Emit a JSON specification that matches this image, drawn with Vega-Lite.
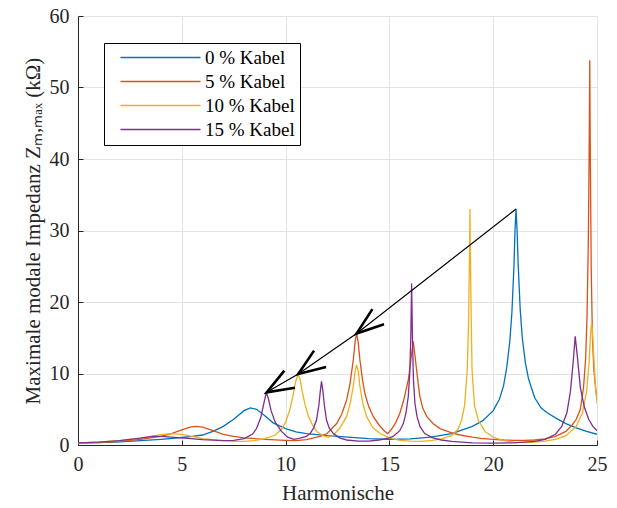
{
  "$schema": "https://vega.github.io/schema/vega-lite/v6.json",
  "width": 519,
  "height": 429,
  "autosize": "none",
  "padding": {"left": 78, "top": 16, "right": 20, "bottom": 63},
  "background": "white",
  "config": {
    "font": "Liberation Serif",
    "view": {"stroke": null},
    "axis": {
      "grid": true,
      "gridColor": "#e3e3e3",
      "gridWidth": 1,
      "domainColor": "#262626",
      "tickColor": "#262626",
      "tickSize": -5,
      "labelFlush": false,
      "labelFont": "Liberation Serif",
      "labelFontSize": 20,
      "labelColor": "#262626",
      "titleFont": "Liberation Serif",
      "titleFontSize": 21,
      "titleFontWeight": "normal",
      "titleColor": "#262626"
    }
  },
  "datasets": {
    "curves": [
      {"s": "0 % Kabel", "x": 0, "y": 0.3}, {"s": "0 % Kabel", "x": 1, "y": 0.35}, {"s": "0 % Kabel", "x": 2, "y": 0.45}, {"s": "0 % Kabel", "x": 3, "y": 0.6}, {"s": "0 % Kabel", "x": 4, "y": 0.8}, {"s": "0 % Kabel", "x": 5, "y": 1.05}, {"s": "0 % Kabel", "x": 5.5, "y": 1.2}, {"s": "0 % Kabel", "x": 6, "y": 1.4}, {"s": "0 % Kabel", "x": 6.5, "y": 1.9}, {"s": "0 % Kabel", "x": 7, "y": 2.6}, {"s": "0 % Kabel", "x": 7.5, "y": 3.6}, {"s": "0 % Kabel", "x": 8, "y": 4.8}, {"s": "0 % Kabel", "x": 8.3, "y": 5.2}, {"s": "0 % Kabel", "x": 8.6, "y": 5.0}, {"s": "0 % Kabel", "x": 9, "y": 4.1}, {"s": "0 % Kabel", "x": 9.4, "y": 3.1}, {"s": "0 % Kabel", "x": 10, "y": 2.3}, {"s": "0 % Kabel", "x": 10.5, "y": 1.85}, {"s": "0 % Kabel", "x": 11, "y": 1.6}, {"s": "0 % Kabel", "x": 12, "y": 1.3}, {"s": "0 % Kabel", "x": 13, "y": 1.1}, {"s": "0 % Kabel", "x": 14, "y": 0.9}, {"s": "0 % Kabel", "x": 15, "y": 0.8}, {"s": "0 % Kabel", "x": 16, "y": 0.85}, {"s": "0 % Kabel", "x": 17, "y": 1.1}, {"s": "0 % Kabel", "x": 18, "y": 1.6}, {"s": "0 % Kabel", "x": 19, "y": 2.6}, {"s": "0 % Kabel", "x": 19.5, "y": 3.4}, {"s": "0 % Kabel", "x": 20, "y": 4.8}, {"s": "0 % Kabel", "x": 20.3, "y": 6.4}, {"s": "0 % Kabel", "x": 20.5, "y": 8.3}, {"s": "0 % Kabel", "x": 20.65, "y": 10.8}, {"s": "0 % Kabel", "x": 20.8, "y": 14.5}, {"s": "0 % Kabel", "x": 20.9, "y": 18.5}, {"s": "0 % Kabel", "x": 21.0, "y": 25}, {"s": "0 % Kabel", "x": 21.05, "y": 30}, {"s": "0 % Kabel", "x": 21.1, "y": 33}, {"s": "0 % Kabel", "x": 21.15, "y": 30}, {"s": "0 % Kabel", "x": 21.2, "y": 25.5}, {"s": "0 % Kabel", "x": 21.3, "y": 19}, {"s": "0 % Kabel", "x": 21.4, "y": 15}, {"s": "0 % Kabel", "x": 21.55, "y": 11.5}, {"s": "0 % Kabel", "x": 21.7, "y": 9.3}, {"s": "0 % Kabel", "x": 21.85, "y": 7.9}, {"s": "0 % Kabel", "x": 22, "y": 6.6}, {"s": "0 % Kabel", "x": 22.3, "y": 5.2}, {"s": "0 % Kabel", "x": 22.6, "y": 4.5}, {"s": "0 % Kabel", "x": 23, "y": 3.8}, {"s": "0 % Kabel", "x": 23.5, "y": 3.0}, {"s": "0 % Kabel", "x": 24, "y": 2.4}, {"s": "0 % Kabel", "x": 24.5, "y": 1.9}, {"s": "0 % Kabel", "x": 25, "y": 1.5},

      {"s": "5 % Kabel", "x": 0, "y": 0.3}, {"s": "5 % Kabel", "x": 1, "y": 0.35}, {"s": "5 % Kabel", "x": 2, "y": 0.5}, {"s": "5 % Kabel", "x": 3, "y": 0.8}, {"s": "5 % Kabel", "x": 4, "y": 1.2}, {"s": "5 % Kabel", "x": 4.5, "y": 1.6}, {"s": "5 % Kabel", "x": 5, "y": 2.1}, {"s": "5 % Kabel", "x": 5.4, "y": 2.5}, {"s": "5 % Kabel", "x": 5.7, "y": 2.6}, {"s": "5 % Kabel", "x": 6, "y": 2.5}, {"s": "5 % Kabel", "x": 6.5, "y": 2.0}, {"s": "5 % Kabel", "x": 7, "y": 1.5}, {"s": "5 % Kabel", "x": 7.5, "y": 1.2}, {"s": "5 % Kabel", "x": 8, "y": 1.0}, {"s": "5 % Kabel", "x": 9, "y": 0.8}, {"s": "5 % Kabel", "x": 10, "y": 0.65}, {"s": "5 % Kabel", "x": 10.5, "y": 0.6}, {"s": "5 % Kabel", "x": 11, "y": 0.75}, {"s": "5 % Kabel", "x": 11.66, "y": 1.2}, {"s": "5 % Kabel", "x": 12, "y": 1.6}, {"s": "5 % Kabel", "x": 12.46, "y": 3.0}, {"s": "5 % Kabel", "x": 12.7, "y": 4.3}, {"s": "5 % Kabel", "x": 12.94, "y": 6.3}, {"s": "5 % Kabel", "x": 13.1, "y": 8.5}, {"s": "5 % Kabel", "x": 13.26, "y": 11.9}, {"s": "5 % Kabel", "x": 13.35, "y": 14.5}, {"s": "5 % Kabel", "x": 13.42, "y": 15.6}, {"s": "5 % Kabel", "x": 13.5, "y": 14.3}, {"s": "5 % Kabel", "x": 13.58, "y": 11.9}, {"s": "5 % Kabel", "x": 13.7, "y": 9.2}, {"s": "5 % Kabel", "x": 13.82, "y": 7.2}, {"s": "5 % Kabel", "x": 14.0, "y": 5.4}, {"s": "5 % Kabel", "x": 14.22, "y": 4.0}, {"s": "5 % Kabel", "x": 14.5, "y": 2.8}, {"s": "5 % Kabel", "x": 14.75, "y": 2.0}, {"s": "5 % Kabel", "x": 14.92, "y": 1.6}, {"s": "5 % Kabel", "x": 15.1, "y": 2.2}, {"s": "5 % Kabel", "x": 15.3, "y": 3.1}, {"s": "5 % Kabel", "x": 15.5, "y": 4.4}, {"s": "5 % Kabel", "x": 15.7, "y": 6.4}, {"s": "5 % Kabel", "x": 15.91, "y": 9.1}, {"s": "5 % Kabel", "x": 16.0, "y": 11}, {"s": "5 % Kabel", "x": 16.07, "y": 12.8}, {"s": "5 % Kabel", "x": 16.15, "y": 14.5}, {"s": "5 % Kabel", "x": 16.22, "y": 12.8}, {"s": "5 % Kabel", "x": 16.31, "y": 10.5}, {"s": "5 % Kabel", "x": 16.4, "y": 8.3}, {"s": "5 % Kabel", "x": 16.47, "y": 6.75}, {"s": "5 % Kabel", "x": 16.6, "y": 5.2}, {"s": "5 % Kabel", "x": 16.8, "y": 4.0}, {"s": "5 % Kabel", "x": 17.1, "y": 3.0}, {"s": "5 % Kabel", "x": 17.44, "y": 2.3}, {"s": "5 % Kabel", "x": 18, "y": 1.7}, {"s": "5 % Kabel", "x": 18.4, "y": 1.4}, {"s": "5 % Kabel", "x": 19, "y": 1.1}, {"s": "5 % Kabel", "x": 19.4, "y": 0.93}, {"s": "5 % Kabel", "x": 20, "y": 0.8}, {"s": "5 % Kabel", "x": 20.5, "y": 0.7}, {"s": "5 % Kabel", "x": 21, "y": 0.65}, {"s": "5 % Kabel", "x": 21.5, "y": 0.65}, {"s": "5 % Kabel", "x": 22, "y": 0.7}, {"s": "5 % Kabel", "x": 22.5, "y": 0.85}, {"s": "5 % Kabel", "x": 23, "y": 1.2}, {"s": "5 % Kabel", "x": 23.5, "y": 1.9}, {"s": "5 % Kabel", "x": 23.8, "y": 2.8}, {"s": "5 % Kabel", "x": 24, "y": 3.6}, {"s": "5 % Kabel", "x": 24.2, "y": 5}, {"s": "5 % Kabel", "x": 24.35, "y": 8}, {"s": "5 % Kabel", "x": 24.45, "y": 12}, {"s": "5 % Kabel", "x": 24.52, "y": 18}, {"s": "5 % Kabel", "x": 24.58, "y": 28}, {"s": "5 % Kabel", "x": 24.62, "y": 40}, {"s": "5 % Kabel", "x": 24.65, "y": 53.8}, {"s": "5 % Kabel", "x": 24.68, "y": 40}, {"s": "5 % Kabel", "x": 24.72, "y": 25}, {"s": "5 % Kabel", "x": 24.78, "y": 15}, {"s": "5 % Kabel", "x": 24.85, "y": 10.5}, {"s": "5 % Kabel", "x": 24.93, "y": 8}, {"s": "5 % Kabel", "x": 25, "y": 6.5},

      {"s": "10 % Kabel", "x": 0, "y": 0.3}, {"s": "10 % Kabel", "x": 1, "y": 0.4}, {"s": "10 % Kabel", "x": 2, "y": 0.6}, {"s": "10 % Kabel", "x": 3, "y": 0.95}, {"s": "10 % Kabel", "x": 3.5, "y": 1.2}, {"s": "10 % Kabel", "x": 4, "y": 1.45}, {"s": "10 % Kabel", "x": 4.5, "y": 1.6}, {"s": "10 % Kabel", "x": 5, "y": 1.5}, {"s": "10 % Kabel", "x": 5.5, "y": 1.2}, {"s": "10 % Kabel", "x": 6, "y": 0.9}, {"s": "10 % Kabel", "x": 7, "y": 0.6}, {"s": "10 % Kabel", "x": 7.5, "y": 0.5}, {"s": "10 % Kabel", "x": 8, "y": 0.5}, {"s": "10 % Kabel", "x": 8.5, "y": 0.6}, {"s": "10 % Kabel", "x": 9, "y": 0.9}, {"s": "10 % Kabel", "x": 9.5, "y": 1.4}, {"s": "10 % Kabel", "x": 9.8, "y": 2.2}, {"s": "10 % Kabel", "x": 10, "y": 3.2}, {"s": "10 % Kabel", "x": 10.2, "y": 4.9}, {"s": "10 % Kabel", "x": 10.35, "y": 6.8}, {"s": "10 % Kabel", "x": 10.48, "y": 8.8}, {"s": "10 % Kabel", "x": 10.6, "y": 9.9}, {"s": "10 % Kabel", "x": 10.7, "y": 9.2}, {"s": "10 % Kabel", "x": 10.8, "y": 7.5}, {"s": "10 % Kabel", "x": 10.95, "y": 5.5}, {"s": "10 % Kabel", "x": 11.1, "y": 4.0}, {"s": "10 % Kabel", "x": 11.3, "y": 2.8}, {"s": "10 % Kabel", "x": 11.5, "y": 1.9}, {"s": "10 % Kabel", "x": 11.8, "y": 1.3}, {"s": "10 % Kabel", "x": 12.06, "y": 1.07}, {"s": "10 % Kabel", "x": 12.3, "y": 1.4}, {"s": "10 % Kabel", "x": 12.6, "y": 2.3}, {"s": "10 % Kabel", "x": 12.94, "y": 4.0}, {"s": "10 % Kabel", "x": 13.1, "y": 5.7}, {"s": "10 % Kabel", "x": 13.26, "y": 8.2}, {"s": "10 % Kabel", "x": 13.35, "y": 10.3}, {"s": "10 % Kabel", "x": 13.42, "y": 11.2}, {"s": "10 % Kabel", "x": 13.5, "y": 10.3}, {"s": "10 % Kabel", "x": 13.58, "y": 8.2}, {"s": "10 % Kabel", "x": 13.72, "y": 5.8}, {"s": "10 % Kabel", "x": 13.9, "y": 4.0}, {"s": "10 % Kabel", "x": 14.2, "y": 2.4}, {"s": "10 % Kabel", "x": 14.55, "y": 1.6}, {"s": "10 % Kabel", "x": 15, "y": 1.0}, {"s": "10 % Kabel", "x": 15.5, "y": 0.65}, {"s": "10 % Kabel", "x": 16, "y": 0.55}, {"s": "10 % Kabel", "x": 16.5, "y": 0.5}, {"s": "10 % Kabel", "x": 17, "y": 0.6}, {"s": "10 % Kabel", "x": 17.5, "y": 0.85}, {"s": "10 % Kabel", "x": 18, "y": 1.3}, {"s": "10 % Kabel", "x": 18.3, "y": 2.2}, {"s": "10 % Kabel", "x": 18.48, "y": 3.5}, {"s": "10 % Kabel", "x": 18.62, "y": 5.5}, {"s": "10 % Kabel", "x": 18.75, "y": 10.5}, {"s": "10 % Kabel", "x": 18.82, "y": 18}, {"s": "10 % Kabel", "x": 18.86, "y": 27}, {"s": "10 % Kabel", "x": 18.88, "y": 33}, {"s": "10 % Kabel", "x": 18.9, "y": 27}, {"s": "10 % Kabel", "x": 18.94, "y": 18}, {"s": "10 % Kabel", "x": 18.98, "y": 10.5}, {"s": "10 % Kabel", "x": 19.1, "y": 5.5}, {"s": "10 % Kabel", "x": 19.28, "y": 3.5}, {"s": "10 % Kabel", "x": 19.6, "y": 1.9}, {"s": "10 % Kabel", "x": 20, "y": 1.1}, {"s": "10 % Kabel", "x": 20.5, "y": 0.6}, {"s": "10 % Kabel", "x": 21, "y": 0.4}, {"s": "10 % Kabel", "x": 21.5, "y": 0.35}, {"s": "10 % Kabel", "x": 22, "y": 0.4}, {"s": "10 % Kabel", "x": 22.5, "y": 0.55}, {"s": "10 % Kabel", "x": 23, "y": 0.8}, {"s": "10 % Kabel", "x": 23.5, "y": 1.3}, {"s": "10 % Kabel", "x": 24, "y": 2.6}, {"s": "10 % Kabel", "x": 24.3, "y": 4.5}, {"s": "10 % Kabel", "x": 24.5, "y": 7.5}, {"s": "10 % Kabel", "x": 24.62, "y": 11.5}, {"s": "10 % Kabel", "x": 24.7, "y": 16}, {"s": "10 % Kabel", "x": 24.74, "y": 17}, {"s": "10 % Kabel", "x": 24.78, "y": 16}, {"s": "10 % Kabel", "x": 24.85, "y": 12}, {"s": "10 % Kabel", "x": 24.92, "y": 8.5}, {"s": "10 % Kabel", "x": 25, "y": 5.8},

      {"s": "15 % Kabel", "x": 0, "y": 0.3}, {"s": "15 % Kabel", "x": 1, "y": 0.4}, {"s": "15 % Kabel", "x": 2, "y": 0.6}, {"s": "15 % Kabel", "x": 3, "y": 0.95}, {"s": "15 % Kabel", "x": 3.6, "y": 1.2}, {"s": "15 % Kabel", "x": 4, "y": 1.2}, {"s": "15 % Kabel", "x": 5, "y": 1.0}, {"s": "15 % Kabel", "x": 6, "y": 0.75}, {"s": "15 % Kabel", "x": 7, "y": 0.6}, {"s": "15 % Kabel", "x": 7.5, "y": 0.65}, {"s": "15 % Kabel", "x": 8, "y": 0.9}, {"s": "15 % Kabel", "x": 8.4, "y": 1.5}, {"s": "15 % Kabel", "x": 8.6, "y": 2.3}, {"s": "15 % Kabel", "x": 8.8, "y": 3.8}, {"s": "15 % Kabel", "x": 8.95, "y": 5.8}, {"s": "15 % Kabel", "x": 9.07, "y": 7.3}, {"s": "15 % Kabel", "x": 9.17, "y": 6.5}, {"s": "15 % Kabel", "x": 9.3, "y": 4.8}, {"s": "15 % Kabel", "x": 9.5, "y": 3.2}, {"s": "15 % Kabel", "x": 9.8, "y": 1.9}, {"s": "15 % Kabel", "x": 10.1, "y": 1.1}, {"s": "15 % Kabel", "x": 10.4, "y": 0.8}, {"s": "15 % Kabel", "x": 10.7, "y": 0.95}, {"s": "15 % Kabel", "x": 11.0, "y": 1.2}, {"s": "15 % Kabel", "x": 11.18, "y": 1.6}, {"s": "15 % Kabel", "x": 11.35, "y": 2.4}, {"s": "15 % Kabel", "x": 11.49, "y": 3.5}, {"s": "15 % Kabel", "x": 11.6, "y": 5.5}, {"s": "15 % Kabel", "x": 11.67, "y": 7.5}, {"s": "15 % Kabel", "x": 11.73, "y": 8.9}, {"s": "15 % Kabel", "x": 11.8, "y": 7.5}, {"s": "15 % Kabel", "x": 11.87, "y": 5.5}, {"s": "15 % Kabel", "x": 11.97, "y": 3.5}, {"s": "15 % Kabel", "x": 12.1, "y": 2.4}, {"s": "15 % Kabel", "x": 12.3, "y": 1.6}, {"s": "15 % Kabel", "x": 12.6, "y": 1.0}, {"s": "15 % Kabel", "x": 12.94, "y": 0.7}, {"s": "15 % Kabel", "x": 13.5, "y": 0.55}, {"s": "15 % Kabel", "x": 14, "y": 0.55}, {"s": "15 % Kabel", "x": 14.5, "y": 0.7}, {"s": "15 % Kabel", "x": 15, "y": 1.0}, {"s": "15 % Kabel", "x": 15.18, "y": 1.2}, {"s": "15 % Kabel", "x": 15.5, "y": 2.0}, {"s": "15 % Kabel", "x": 15.67, "y": 3.0}, {"s": "15 % Kabel", "x": 15.8, "y": 4.5}, {"s": "15 % Kabel", "x": 15.91, "y": 6.8}, {"s": "15 % Kabel", "x": 15.98, "y": 10}, {"s": "15 % Kabel", "x": 16.03, "y": 15}, {"s": "15 % Kabel", "x": 16.07, "y": 22.6}, {"s": "15 % Kabel", "x": 16.11, "y": 15}, {"s": "15 % Kabel", "x": 16.16, "y": 9}, {"s": "15 % Kabel", "x": 16.23, "y": 5.8}, {"s": "15 % Kabel", "x": 16.33, "y": 4.0}, {"s": "15 % Kabel", "x": 16.47, "y": 2.6}, {"s": "15 % Kabel", "x": 16.7, "y": 1.6}, {"s": "15 % Kabel", "x": 17.1, "y": 1.0}, {"s": "15 % Kabel", "x": 17.5, "y": 0.7}, {"s": "15 % Kabel", "x": 18, "y": 0.5}, {"s": "15 % Kabel", "x": 19, "y": 0.3}, {"s": "15 % Kabel", "x": 20, "y": 0.25}, {"s": "15 % Kabel", "x": 21, "y": 0.3}, {"s": "15 % Kabel", "x": 22, "y": 0.5}, {"s": "15 % Kabel", "x": 22.5, "y": 0.8}, {"s": "15 % Kabel", "x": 23, "y": 1.5}, {"s": "15 % Kabel", "x": 23.3, "y": 2.6}, {"s": "15 % Kabel", "x": 23.55, "y": 4.5}, {"s": "15 % Kabel", "x": 23.72, "y": 7.5}, {"s": "15 % Kabel", "x": 23.85, "y": 11.5}, {"s": "15 % Kabel", "x": 23.95, "y": 15.2}, {"s": "15 % Kabel", "x": 24.05, "y": 12.5}, {"s": "15 % Kabel", "x": 24.2, "y": 8}, {"s": "15 % Kabel", "x": 24.4, "y": 5.2}, {"s": "15 % Kabel", "x": 24.6, "y": 3.6}, {"s": "15 % Kabel", "x": 24.8, "y": 2.6}, {"s": "15 % Kabel", "x": 25, "y": 2.0}
    ],
    "arrows": [
      {"g": "shaft", "w": "thin", "o": 1, "x": 21.1, "y": 33},
      {"g": "shaft", "w": "thin", "o": 2, "x": 13.42, "y": 15.6},
      {"g": "shaft", "w": "thin", "o": 3, "x": 10.61, "y": 9.93},
      {"g": "shaft", "w": "thin", "o": 4, "x": 9.09, "y": 7.37},
      {"g": "h1", "w": "thick", "o": 1, "x": 14.18, "y": 19.0},
      {"g": "h1", "w": "thick", "o": 2, "x": 13.42, "y": 15.6},
      {"g": "h1", "w": "thick", "o": 3, "x": 14.74, "y": 16.9},
      {"g": "h2", "w": "thick", "o": 1, "x": 11.37, "y": 13.2},
      {"g": "h2", "w": "thick", "o": 2, "x": 10.61, "y": 9.93},
      {"g": "h2", "w": "thick", "o": 3, "x": 11.95, "y": 10.9},
      {"g": "h3", "w": "thick", "o": 1, "x": 9.94, "y": 10.4},
      {"g": "h3", "w": "thick", "o": 2, "x": 9.09, "y": 7.37},
      {"g": "h3", "w": "thick", "o": 3, "x": 10.45, "y": 8.0}
    ]
  },
  "layer": [
    {
      "data": {"name": "curves"},
      "mark": {"type": "line", "strokeWidth": 1.3, "clip": true},
      "encoding": {
        "x": {
          "field": "x", "type": "quantitative",
          "scale": {"domain": [0, 25], "nice": false, "zero": false},
          "axis": {"values": [0, 5, 10, 15, 20, 25], "title": "Harmonische", "labelPadding": 14, "titlePadding": 8}
        },
        "y": {
          "field": "y", "type": "quantitative",
          "scale": {"domain": [0, 60], "nice": false},
          "axis": {"values": [0, 10, 20, 30, 40, 50, 60], "title": "Maximale modale Impedanz Zₘ,ₘₐₓ (kΩ)", "labelPadding": 14, "titlePadding": 6}
        },
        "color": {
          "field": "s", "type": "nominal",
          "scale": {"domain": ["0 % Kabel", "5 % Kabel", "10 % Kabel", "15 % Kabel"], "range": ["#0072BD", "#D95319", "#EDB120", "#7E2F8E"]},
          "legend": {
            "title": null,
            "orient": "none",
            "legendX": 26,
            "legendY": 27,
            "symbolType": "M0,0H80",
            "symbolSize": 4,
            "symbolStrokeWidth": 1.5,
            "symbolOffset": 2,
            "labelFont": "Liberation Serif",
            "labelFontSize": 19,
            "labelColor": "#000000",
            "labelOffset": 75,
            "strokeColor": "#000000",
            "fillColor": "#ffffff",
            "padding": 5,
            "rowPadding": 4,
            "cornerRadius": 0
          }
        },
        "order": {"field": "x", "type": "quantitative"}
      }
    },
    {
      "data": {"name": "arrows"},
      "mark": {"type": "line", "color": "#000000"},
      "encoding": {
        "x": {"field": "x", "type": "quantitative"},
        "y": {"field": "y", "type": "quantitative"},
        "detail": {"field": "g"},
        "order": {"field": "o", "type": "quantitative"},
        "strokeWidth": {"field": "w", "type": "nominal", "scale": {"domain": ["thin", "thick"], "range": [1.2, 2.6]}, "legend": null}
      }
    }
  ]
}
